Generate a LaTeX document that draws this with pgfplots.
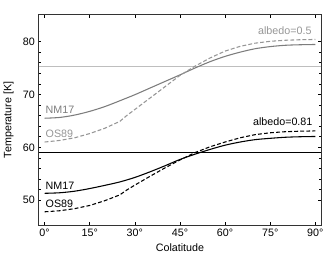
\documentclass[border=0pt]{standalone}
\usepackage{pgfplots}
\pgfplotsset{compat=1.18}
\usepackage{fontspec}
\setmainfont{Liberation Sans}
\definecolor{gsolid}{RGB}{125,125,125}
\definecolor{gdash}{RGB}{150,150,150}
\definecolor{ghline}{RGB}{190,190,190}
\begin{document}
\fontsize{11}{13}\selectfont
\begin{tikzpicture}
\begin{axis}[
  scale only axis,
  width=290pt, height=216pt,
  at={(0,0)}, anchor=south west,
  xmin=-2, xmax=92, ymin=45.26, ymax=85.1,
  xtick={0,15,30,45,60,75,90},
  xticklabels={0°,15°,30°,45°,60°,75°,90°},
  ytick={50,60,70,80},
  minor y tick num=4,
  tick align=inside,
  major tick length=3pt, minor tick length=2pt,
  tick style={black, line width=0.5pt},
  axis line style={black!80, line width=0.7pt},
  /pgf/number format/assume math mode=true,
  ticklabel style={font=\fontsize{11}{13}\selectfont},
  xlabel={Colatitude}, ylabel={Temperature [K]},
  label style={font=\fontsize{11}{13}\selectfont},
  ylabel style={yshift=2pt},
  clip=true,
]
% horizontal reference lines
\addplot[ghline, line width=0.9pt] coordinates {(-2,75.3) (92,75.3)};
\addplot[black, line width=0.6pt] coordinates {(-2,59.1) (92,59.1)};
% albedo 0.5, NM17
\addplot[gsolid, line width=1.1pt, smooth] coordinates {
(0,65.5) (5,65.65) (10,66.1) (15,66.8) (20,67.7) (25,68.8) (30,69.95) (35,71.2) (40,72.45) (45,73.7) (50,75.0) (55,76.2) (60,77.2) (65,78.0) (70,78.65) (75,79.05) (80,79.3) (85,79.4) (90,79.45)};
% albedo 0.5, OS89
\addplot[gdash, line width=1.1pt, dash pattern=on 4pt off 2.2pt] coordinates {
(0,61.0) (5,61.3) (10,61.8) (15,62.6) (20,63.6) (25,64.9) (27.4,66.05) (30,67.15) (35,69.3) (40,71.45) (45,73.6) (50,75.35) (55,76.9) (60,78.2) (65,79.1) (70,79.7) (75,80.05) (80,80.25) (85,80.35) (90,80.4)};
% albedo 0.81, NM17
\addplot[black, line width=1.1pt, smooth] coordinates {
(0,51.3) (5,51.4) (10,51.7) (15,52.2) (20,52.8) (25,53.45) (30,54.3) (35,55.35) (40,56.5) (45,57.7) (50,58.7) (55,59.6) (60,60.4) (65,61.0) (70,61.45) (75,61.7) (80,61.9) (85,62.0) (90,62.05)};
% albedo 0.81, OS89
\addplot[black, line width=1.1pt, dash pattern=on 4pt off 2.2pt] coordinates {
(0,47.8) (5,48.0) (10,48.4) (15,49.0) (20,49.9) (25,51.0) (27.4,51.95) (30,52.85) (35,54.5) (40,56.1) (45,57.6) (50,59.0) (55,60.1) (60,61.0) (65,61.8) (70,62.4) (75,62.75) (80,62.95) (85,63.05) (90,63.1)};
% labels
\node[anchor=west, text=gsolid, inner sep=0pt] at (axis cs:0.3,67.0) {NM17};
\node[anchor=west, text=gdash, inner sep=0pt] at (axis cs:0.3,62.6) {OS89};
\node[anchor=west, text=black, inner sep=0pt] at (axis cs:0.3,52.7) {NM17};
\node[anchor=west, text=black, inner sep=0pt] at (axis cs:0.3,49.4) {OS89};
\node[anchor=east, text=gdash, inner sep=0pt] at (axis cs:88.8,82.0) {albedo=0.5};
\node[anchor=east, text=black, inner sep=0pt] at (axis cs:89.1,64.8) {albedo=0.81};
\end{axis}
\path[use as bounding box] (-33pt,-36pt) rectangle (294pt,231pt);
\end{tikzpicture}
\end{document}
